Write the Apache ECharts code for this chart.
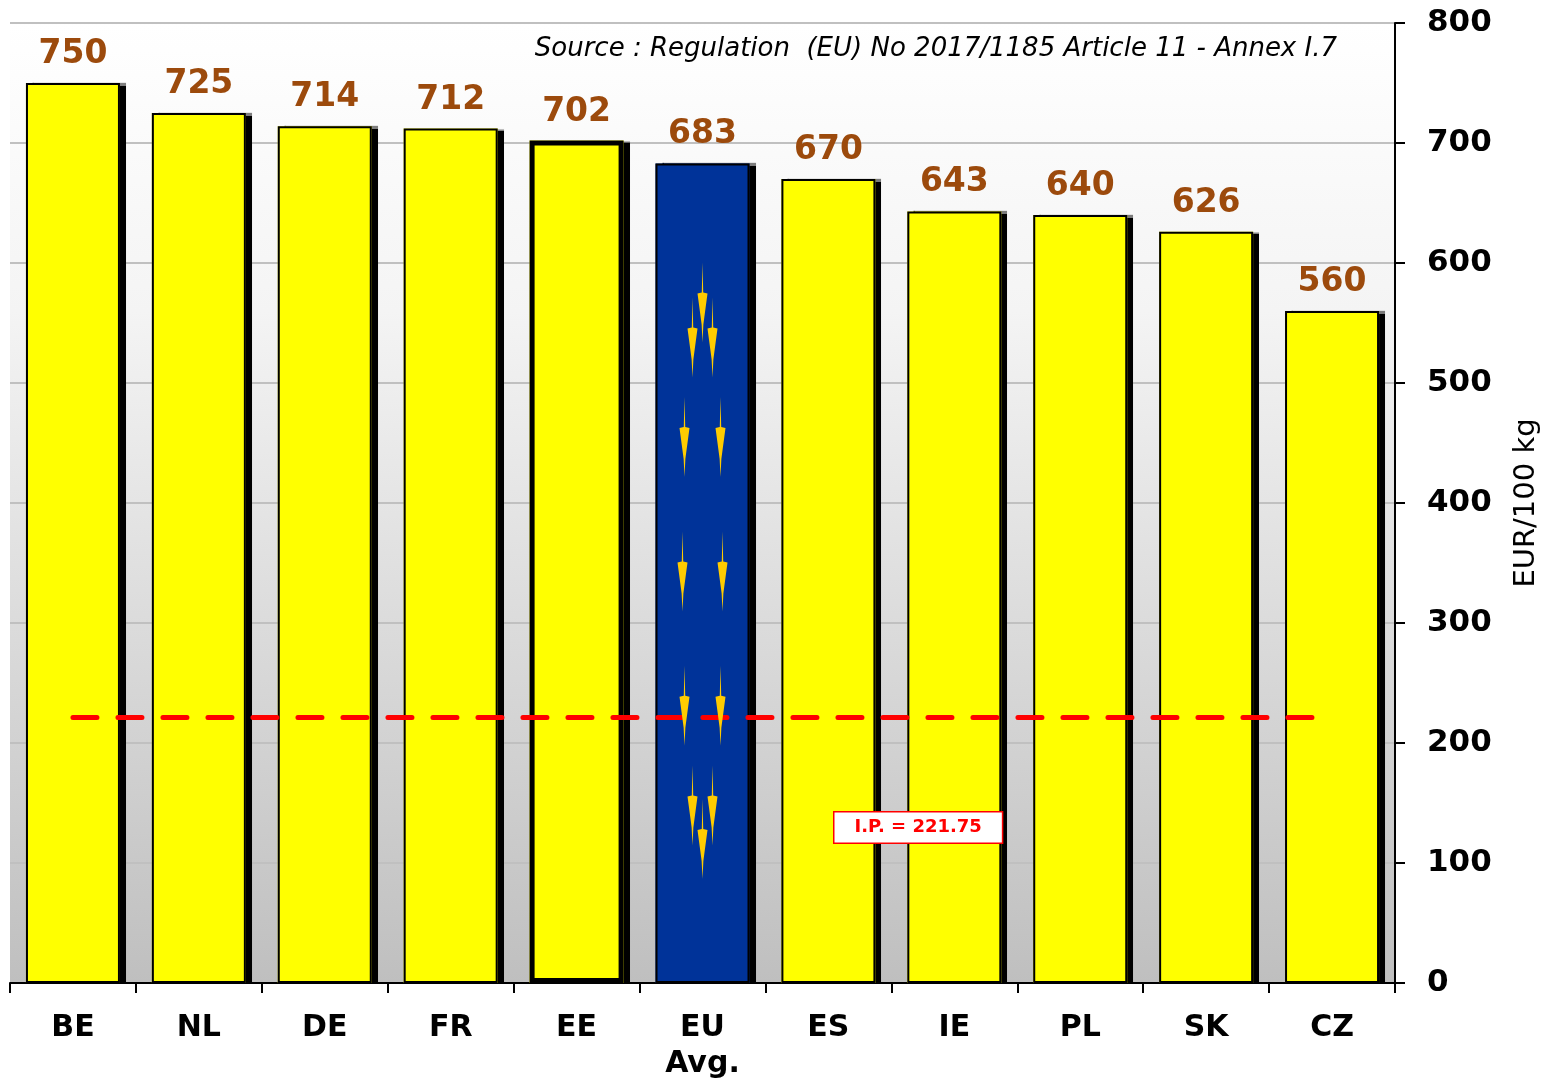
<!DOCTYPE html>
<html>
<head>
<meta charset="utf-8">
<script src="https://cdn.jsdelivr.net/npm/echarts@6/dist/echarts.min.js"></script>
<style>
  html, body { margin: 0; padding: 0; background: #fff; }
  #main { width: 1560px; height: 1082px; }
</style>
</head>
<body>
<div id="main"></div>
<script>
// data
var countries = ['BE', 'NL', 'DE', 'FR', 'EE', 'EU\nAvg.', 'ES', 'IE', 'PL', 'SK', 'CZ']
var prices = [750, 725, 714, 712, 702, 683, 670, 643, 640, 626, 560]
var interventionPrice = 221.75
var yTicks = [0, 100, 200, 300, 400, 500, 600, 700, 800]

// EU flag "stars" on the avg bar: [value, x offset px]
var euStars = [[567, 0], [538, -10], [538, 10], [455, -18], [455, 18], [343, -20], [343, 20], [231, -18], [231, 18], [148, -10], [148, 10], [120, 0]]

var FONT = 'DejaVu Sans'
var chart = echarts.init(document.getElementById('main'))

// fill layer (carries the drop shadow)
var fillData = prices.map(function (v, i) {
  var item = { value: v }
  if (countries[i] === 'EU\nAvg.') {
    item.itemStyle = { color: '#003399' }
  }
  return item
})

// outline layer (borders + labels, no shadow)
var outlineData = prices.map(function (v, i) {
  var item = { value: v }
  if (countries[i] === 'EE') {
    item.itemStyle = { borderWidth: 5 }
  }
  return item
})

var starPath = 'path://M5,0 L5.5,30 L8.5,31 L5.6,62 L5,80 L4.4,62 L1.5,31 L4.5,30 Z'

var option = {
  animation: false,
  title: {
    text: 'Source : Regulation  (EU) No 2017/1185 Article 11 - Annex I.7',
    right: 218,
    top: 31,
    textStyle: { fontFamily: FONT, fontStyle: 'italic', fontWeight: 'normal', fontSize: 26, color: '#000' }
  },
  grid: {
    left: 10,
    right: 165,
    top: 23,
    bottom: 99,
    show: true,
    borderWidth: 0,
    backgroundColor: new echarts.graphic.LinearGradient(0, 0, 0, 1, [
      { offset: 0, color: '#ffffff' },
      { offset: 0.3, color: '#f4f4f4' },
      { offset: 1, color: '#bfbfbf' }
    ])
  },
  xAxis: {
    type: 'category',
    data: countries,
    axisLine: { lineStyle: { color: '#000', width: 2 } },
    axisTick: { show: true, length: 10, lineStyle: { color: '#000', width: 2 } },
    axisLabel: {
      margin: 27,
      fontFamily: FONT,
      fontWeight: 'bold',
      fontSize: 30,
      lineHeight: 36,
      color: '#000'
    }
  },
  yAxis: {
    type: 'value',
    position: 'right',
    min: 0,
    max: 800,
    interval: 100,
    name: 'EUR/100 kg',
    nameLocation: 'middle',
    nameRotate: 90,
    nameGap: 117,
    nameTextStyle: { fontFamily: FONT, fontSize: 29, color: '#000' },
    axisLine: { show: true, lineStyle: { color: '#000', width: 2 } },
    axisTick: { show: true, length: 10, lineStyle: { color: '#000', width: 2 } },
    axisLabel: {
      margin: 32,
      fontFamily: FONT,
      fontWeight: 'bold',
      fontSize: 31,
      color: '#000',
      formatter: function (v) { return yTicks.indexOf(v) >= 0 ? String(v) : '' }
    },
    splitLine: { lineStyle: { color: '#c0c0c0', width: 2 } }
  },
  series: [
    {
      type: 'bar',
      data: fillData,
      barWidth: 94,
      barGap: '-100%',
      silent: true,
      itemStyle: {
        color: '#ffff00',
        borderWidth: 0,
        shadowColor: '#000',
        shadowBlur: 1,
        shadowOffsetX: 6,
        shadowOffsetY: 0
      },
      markPoint: {
        silent: true,
        symbol: starPath,
        symbolSize: [10, 80],
        itemStyle: { color: '#ffcc00', shadowBlur: 0, shadowOffsetX: 0, shadowOffsetY: 0 },
        label: { show: false },
        data: euStars.map(function (s) {
          return { coord: ['EU\nAvg.', s[0]], symbolOffset: [s[1], 0] }
        })
      },
      markLine: {
        silent: true,
        symbol: 'none',
        label: { show: false },
        lineStyle: { color: '#ff0000', width: 5, type: [24, 21], cap: 'round' },
        data: [[{ coord: ['BE', interventionPrice] }, { coord: ['CZ', interventionPrice], x: 1320 }]]
      },
      z: 2
    },
    {
      type: 'bar',
      data: outlineData,
      barWidth: 94,
      barGap: '-100%',
      itemStyle: {
        color: 'rgba(0,0,0,0)',
        borderColor: '#000',
        borderWidth: 2
      },
      label: {
        show: true,
        position: 'top',
        distance: 12,
        fontFamily: FONT,
        fontWeight: 'bold',
        fontSize: 33,
        color: '#9c4a0c'
      },
      z: 3
    }
  ],
  graphic: [
    {
      type: 'text',
      left: 833,
      top: 811,
      style: {
        text: 'I.P. = 221.75',
        fontFamily: FONT,
        fontWeight: 'bold',
        fontSize: 18,
        fill: '#ff0000',
        backgroundColor: '#ffffff',
        borderColor: '#ff0000',
        borderWidth: 1.5,
        padding: [6, 20, 6, 20]
      },
      z: 10
    }
  ]
}

chart.setOption(option)
</script>
</body>
</html>
